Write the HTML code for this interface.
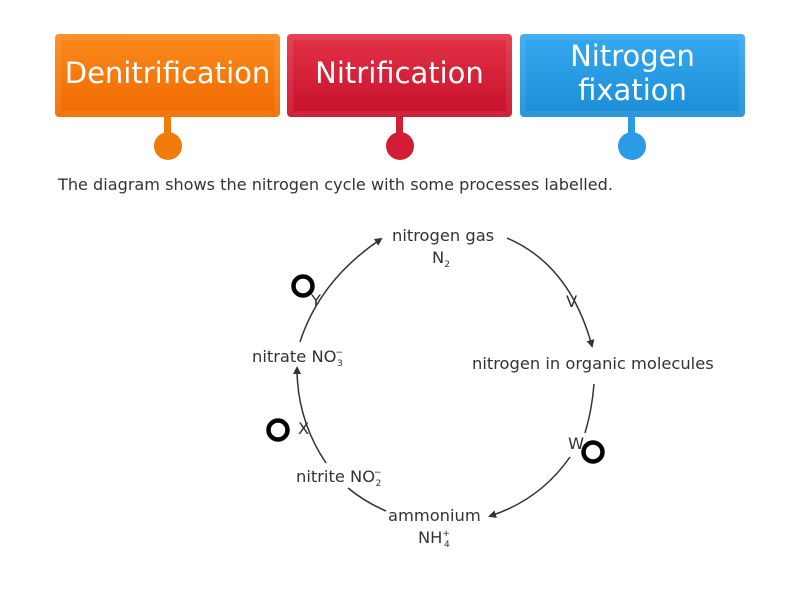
<!DOCTYPE html>
<html><head><style>
body{margin:0;width:800px;height:600px;background:#fff;font-family:"DejaVu Sans","Liberation Sans",sans-serif;position:relative;overflow:hidden}
.box{position:absolute;top:34px;height:77px;padding-bottom:6px;width:225px;border-radius:4px;color:#fff;display:flex;align-items:center;justify-content:center;text-align:center;font-size:29px;line-height:34px;box-shadow:inset 0 0 0 6px rgba(255,255,255,0.08)}
.stem{position:absolute;top:116px;width:7px;height:22px}
.dot{position:absolute;top:132px;width:28px;height:28px;border-radius:50%}
</style></head><body>
<div class="box" style="left:55px;background:linear-gradient(#fb8a1c,#f06a00)">Denitrification</div>
<div class="box" style="left:287px;background:linear-gradient(#e23348,#c8102a)">Nitrification</div>
<div class="box" style="left:520px;background:linear-gradient(#35a8ef,#1c8ed8)">Nitrogen<br>fixation</div>
<div class="stem" style="left:164px;background:#f07a0a"></div><div class="dot" style="left:154px;background:#f07a0a"></div>
<div class="stem" style="left:396px;background:#d21d35"></div><div class="dot" style="left:386px;background:#d21d35"></div>
<div class="stem" style="left:628px;background:#2a9be4"></div><div class="dot" style="left:618px;background:#2a9be4"></div>
<div style="position:absolute;left:58px;top:175px;font-size:16.1px;color:#333">The diagram shows the nitrogen cycle with some processes labelled.</div>
<svg width="800" height="600" style="position:absolute;left:0;top:0" font-family="DejaVu Sans, Liberation Sans, sans-serif" font-size="16.3" fill="#333">
<defs><marker id="a" markerWidth="8" markerHeight="8" refX="6" refY="4" orient="auto" markerUnits="userSpaceOnUse"><path d="M0,0 L8,4 L0,8 Z" fill="#333"/></marker></defs>
<g stroke="#333" stroke-width="1.5" fill="none">
<path d="M300,342 Q320,280 381,239" marker-end="url(#a)"/>
<path d="M507,238 Q570,265 592,346" marker-end="url(#a)"/>
<path d="M594,384 Q592,410 585,433"/>
<path d="M570,457 Q540,500 490,516" marker-end="url(#a)"/>
<path d="M326,463 Q297,420 297,368" marker-end="url(#a)"/>
<path d="M348,488 Q365,502 386,511"/>
</g>
<text x="392" y="241">nitrogen gas</text>
<text x="432" y="263">N<tspan font-size="9" dy="4">2</tspan></text>
<text x="566" y="307">V</text>
<text x="472" y="369">nitrogen in organic molecules</text>
<text x="568" y="449">W</text>
<text x="252" y="362">nitrate NO<tspan font-size="9" dx="-1" dy="-7">−</tspan><tspan font-size="9" dx="-6" dy="11">3</tspan></text>
<text x="298" y="434">X</text>
<text x="311" y="306">Y</text>
<text x="296" y="482">nitrite NO<tspan font-size="9" dx="-1" dy="-7">−</tspan><tspan font-size="9" dx="-6" dy="11">2</tspan></text>
<text x="388" y="521">ammonium</text>
<text x="418" y="543">NH<tspan font-size="9" dy="-7">+</tspan><tspan font-size="9" dx="-6" dy="11">4</tspan></text>
<g fill="none" stroke="#000" stroke-width="4.5">
<circle cx="303" cy="286" r="9.5"/>
<circle cx="278" cy="430" r="9.5"/>
<circle cx="593" cy="452" r="9.5"/>
</g>
</svg>
</body></html>
